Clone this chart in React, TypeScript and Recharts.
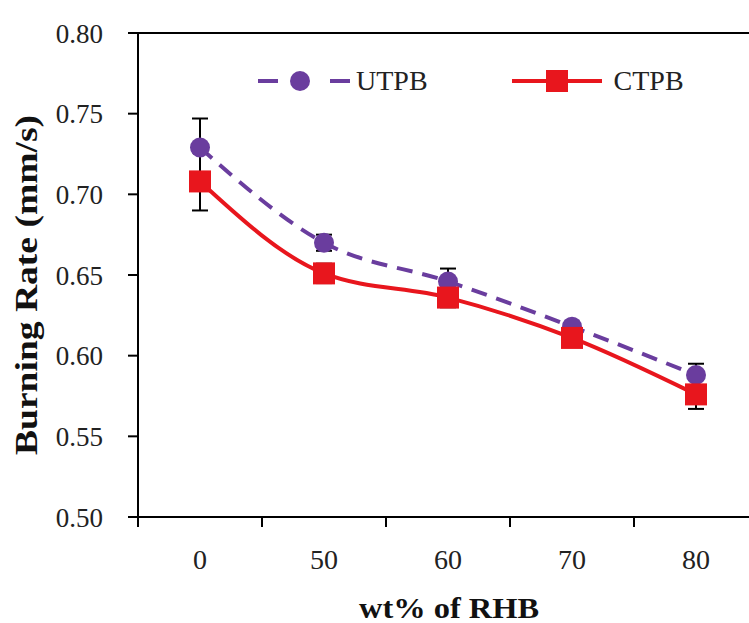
import React from "react";
import {
	ErrorBar,
	Line,
	LineChart,
	ReferenceLine,
	XAxis,
	YAxis,
} from "recharts";

const categories = ["0", "50", "60", "70", "80"];
const utpb = [0.729, 0.67, 0.646, 0.618, 0.588];
const utpbErr = [0.018, 0.005, 0.008, 0.003, 0.007];
const ctpb = [0.708, 0.651, 0.636, 0.611, 0.576];
const ctpbErr = [0.018, 0.006, 0.006, 0.003, 0.009];
const yTicks = [0.5, 0.55, 0.6, 0.65, 0.7, 0.75, 0.8];

const data = categories.map((wt, i) => ({
	wt,
	utpb: utpb[i],
	utpbErr: utpbErr[i],
	ctpb: ctpb[i],
	ctpbErr: ctpbErr[i],
}));

const FONT = '"Liberation Serif", "Times New Roman", serif';
const PURPLE = "#6a3d9e";
const RED = "#e8161d";
const HALF_STEP = 62;

function XTick(props: any) {
	const { x, y, payload } = props;
	return (
		<g>
			<line x1={x - HALF_STEP} y1={y} x2={x - HALF_STEP} y2={y + 10} stroke="#000" strokeWidth={2} />
			<line x1={x + HALF_STEP} y1={y} x2={x + HALF_STEP} y2={y + 10} stroke="#000" strokeWidth={2} />
			<text
				x={x}
				y={y + 52}
				textAnchor="middle"
				fontFamily={FONT}
				fontSize={28}
				fill="#222"
			>
				{payload.value}
			</text>
		</g>
	);
}

function LegendBox() {
	return (
		<div
			style={{
				position: "absolute",
				top: 64,
				left: 258,
				display: "flex",
				alignItems: "center",
				fontFamily: FONT,
				fontSize: 28,
				color: "#222",
				lineHeight: "34px",
			}}
		>
			<svg width={92} height={24}>
				<line x1={0} y1={12} x2={20} y2={12} stroke={PURPLE} strokeWidth={4} />
				<circle cx={42} cy={12} r={10} fill={PURPLE} />
				<line x1={72} y1={12} x2={92} y2={12} stroke={PURPLE} strokeWidth={4} />
			</svg>
			<span style={{ marginLeft: 6 }}>UTPB</span>
			<svg width={92} height={24} style={{ marginLeft: 84 }}>
				<line x1={0} y1={12} x2={90} y2={12} stroke={RED} strokeWidth={4} />
				<rect x={34} y={1} width={22} height={22} fill={RED} />
			</svg>
			<span style={{ marginLeft: 10 }}>CTPB</span>
		</div>
	);
}

export default function App() {
	return (
		<div
			style={{
				position: "absolute",
				left: 0,
				top: 0,
				width: 749,
				height: 623,
				overflow: "hidden",
				background: "#fff",
			}}
		>
			<LineChart
				width={770}
				height={623}
				data={data}
				margin={{ top: 33, right: 12, left: 0, bottom: 0 }}
			>
				<XAxis
					dataKey="wt"
					height={106}
					padding={{ left: HALF_STEP, right: HALF_STEP }}
					axisLine={{ stroke: "#000", strokeWidth: 2 }}
					tickLine={false}
					tickSize={0}
					tickMargin={0}
					tick={<XTick />}
					interval={0}
					label={{
						content: () => (
							<text
								x={449}
								y={618}
								textAnchor="middle"
								fontFamily={FONT}
								fontWeight="bold"
								fontSize={30}
								textLength={180}
								lengthAdjust="spacingAndGlyphs"
								fill="#111"
							>
								wt% of RHB
							</text>
						),
					}}
				/>
				<YAxis
					width={138}
					domain={[0.5, 0.8]}
					ticks={yTicks}
					tickFormatter={(v: number) => v.toFixed(2)}
					axisLine={{ stroke: "#000", strokeWidth: 2 }}
					tickLine={{ stroke: "#000", strokeWidth: 2 }}
					tickSize={10}
					tickMargin={25}
					tick={{ fontFamily: FONT, fontSize: 27, fill: "#222" }}
					label={{
						content: () => (
							<text
								x={26}
								y={285}
								transform="rotate(-90, 26, 285)"
								textAnchor="middle"
								dominantBaseline="central"
								fontFamily={FONT}
								fontWeight="bold"
								fontSize={31}
								textLength={340}
								lengthAdjust="spacingAndGlyphs"
								fill="#111"
							>
								Burning Rate (mm/s)
							</text>
						),
					}}
				/>
				<ReferenceLine y={0.8} stroke="#000" strokeWidth={2} ifOverflow="visible" />
				<Line
					type="monotone"
					dataKey="utpb"
					stroke={PURPLE}
					strokeWidth={4}
					strokeDasharray="16 10"
					dot={{ r: 10, fill: PURPLE, stroke: PURPLE, strokeWidth: 0, strokeDasharray: "" }}
					isAnimationActive={false}
				>
					<ErrorBar dataKey="utpbErr" direction="y" width={8} stroke="#000" strokeWidth={2} />
				</Line>
				<Line
					type="monotone"
					dataKey="ctpb"
					stroke={RED}
					strokeWidth={4}
					dot={(p: any) => (
						<rect
							key={`sq-${p.index}`}
							x={p.cx - 11}
							y={p.cy - 11}
							width={22}
							height={22}
							fill={RED}
						/>
					)}
					isAnimationActive={false}
				>
					<ErrorBar dataKey="ctpbErr" direction="y" width={8} stroke="#000" strokeWidth={2} />
				</Line>
			</LineChart>
			<LegendBox />
		</div>
	);
}
